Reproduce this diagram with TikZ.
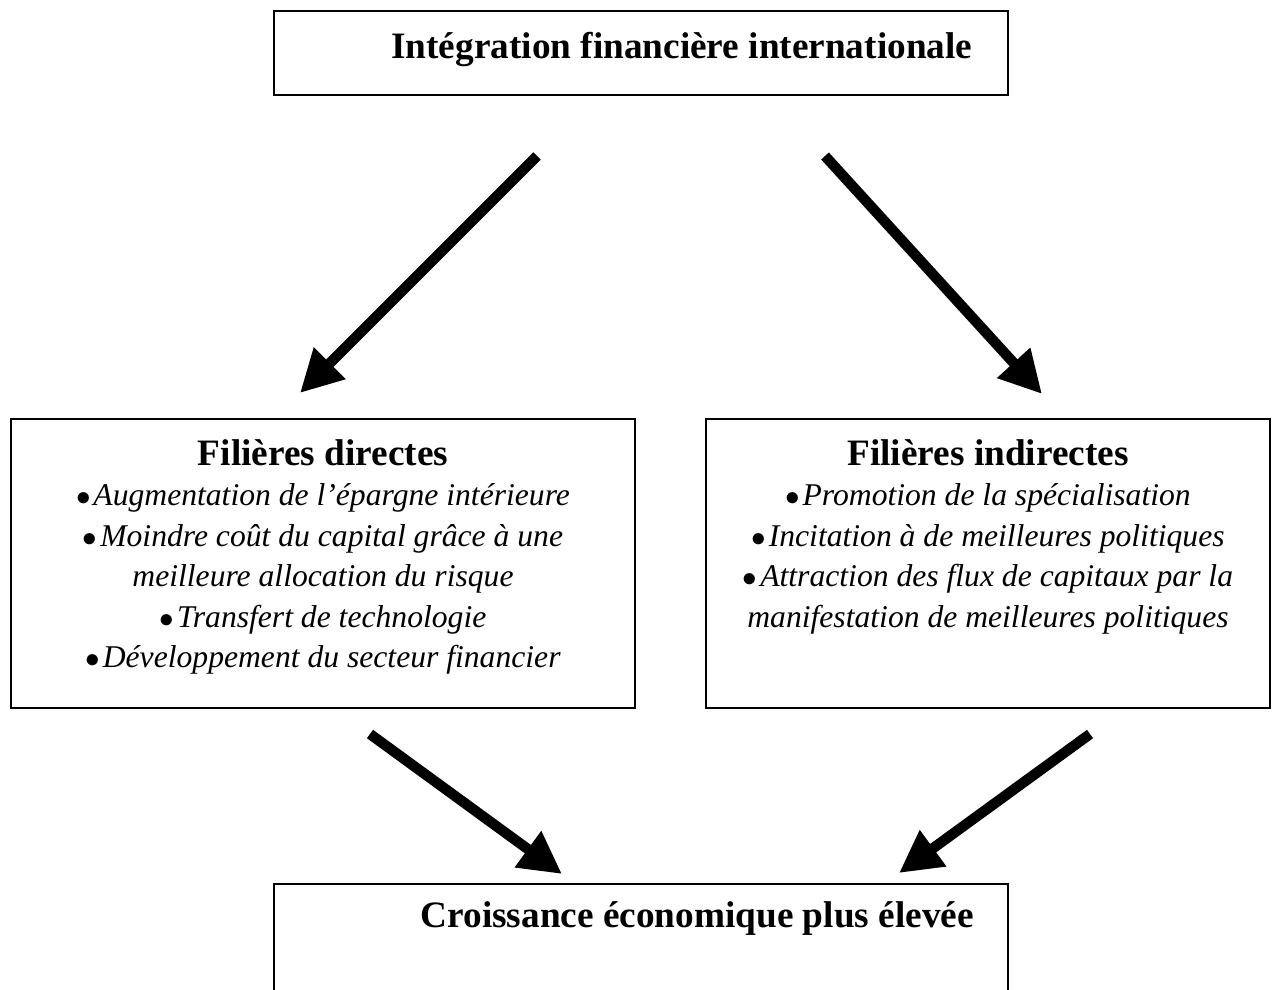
\documentclass[tikz,border=0pt]{standalone}
\usepackage{fontspec}
\setmainfont{Liberation Serif}
\usetikzlibrary{arrows.meta, positioning, calc}
\tikzset{
        box/.style={draw, line width=1.4pt, inner sep=0pt},
        boxtext/.style={inner sep=0pt, align=center, font=\itshape\fontsize{22.5}{28.8}\selectfont},
        fat/.style={line width=7.4pt, -{Triangle[length=30pt, width=30pt]}}
    }
\newcommand{\puce}{$\bullet$\kern2pt}
\newcommand{\titre}[1]{{\upshape\bfseries\fontsize{26.5}{28.8}\selectfont #1}}

\begin{document}
\begin{tikzpicture}[x=0.025cm, y=-0.025cm]
    \useasboundingbox (0,0) rectangle (1272,989);
    \clip (0,0) rectangle (1272,989);

    % the four blocks
    \node[box, minimum width=18.35cm, minimum height=2.1cm] (top) at (641, 53) {};
    \node[box, minimum width=15.6cm, minimum height=7.225cm] (direct) at (323, 563.5) {};
    \node[box, minimum width=14.1cm, minimum height=7.225cm] (indirect) at (988, 563.5) {};
    \node[box, minimum width=18.35cm, minimum height=3.25cm] (bottom) at (641, 949) {};

    % texts inside the blocks
    \node[boxtext, below=15.5pt of top.north, xshift=29pt] (toptxt) {\titre{Intégration financière internationale}};
    \node[boxtext, below=15pt of direct.north] (directtxt) {\titre{Filières directes}\\
        \puce Augmentation de l’épargne intérieure\\
        \puce Moindre coût du capital grâce à une\\
        meilleure allocation du risque\\
        \puce Transfert de technologie\\
        \puce Développement du secteur financier};
    \node[boxtext, below=15pt of indirect.north] (indirecttxt) {\titre{Filières indirectes}\\
        \puce Promotion de la spécialisation\\
        \puce Incitation à de meilleures politiques\\
        \puce Attraction des flux de capitaux par la\\
        manifestation de meilleures politiques};
    \node[boxtext, below=12.8pt of bottom.north, xshift=40pt] (bottomtxt) {\titre{Croissance économique plus élevée}};

    % arrows
    \draw[fat] ($(top.south)+(-104,60)$) -- ($(direct.north)+(-23,-25)$);
    \draw[fat] ($(top.south)+(184,60)$) -- ($(indirect.north)+(54,-24)$);
    \draw[fat] ($(direct.south)+(47,25)$) -- ($(bottom.north)+(-79,-9)$);
    \draw[fat] ($(indirect.south)+(102,25)$) -- ($(bottom.north)+(258,-10)$);

\end{tikzpicture}
\end{document}
